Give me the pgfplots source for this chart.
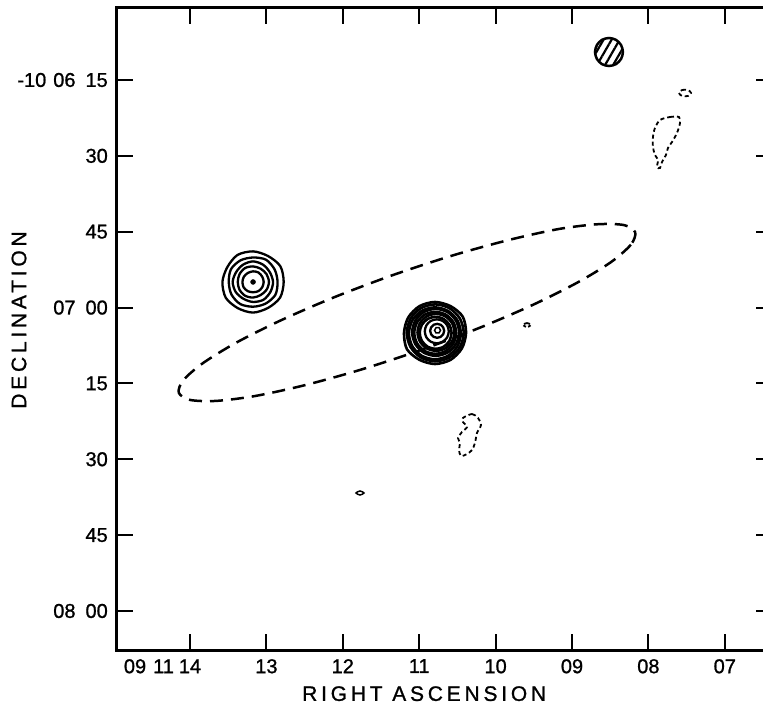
\documentclass[border=0pt]{standalone}
\usepackage{fontspec}
\setmainfont[FakeBold=1]{Liberation Sans}
\newfontfamily\labelfont[LetterSpace=18, FakeBold=1]{Liberation Sans}
\usepackage{pgfplots}
\pgfplotsset{compat=1.18}
\usetikzlibrary{patterns.meta}

\begin{document}
\begin{tikzpicture}
\begin{axis}[
    scale only axis, width=655pt, height=642pt,
    x dir=reverse,
    xmin=6.382, xmax=14.956,
    ymin=-127.72, ymax=-0.76,
    xtick={7,8,9,10,11,12,13,14},
    xticklabels={07,08,09,10,11,12,13,{\llap{09\hspace{7pt}11\hspace{5pt}}14}},
    ytick={-120,-105,-90,-75,-60,-45,-30,-15},
    yticklabels={{08\hspace{10pt}00},45,30,15,{07\hspace{10pt}00},45,30,{-10\hspace{7pt}06\hspace{10pt}15}},
    tick align=inside,
    major tick length=16pt,
    every tick/.append style={black, line width=2pt},
    axis line style={line width=3pt},
    ticklabel style={font=\fontsize{20}{22}\selectfont},
    xticklabel style={anchor=north, inner sep=0pt, yshift=-9pt},
    yticklabel style={anchor=east, inner sep=0pt, xshift=-9pt},
    xlabel={\labelfont RIGHT ASCENSION},
    ylabel={\labelfont DECLINATION},
    label style={font=\fontsize{21}{23}\selectfont},
    xlabel style={at={(axis description cs:0.469,-0.068)}, anchor=center},
    ylabel style={at={(axis description cs:-0.1496,0.514)}, anchor=center},
    pos/.style={black, line width=2.3pt, smooth cycle},
    neg/.style={black, line width=1.8pt, dash pattern=on 4pt off 3pt, smooth cycle},
]

% synthesised beam (hatched)
\addplot[black, line width=2.5pt, smooth cycle,
    pattern={Lines[angle=60, distance=7pt, line width=2.2pt]}] coordinates {
    (8.699,-9.46) (8.674,-8.075) (8.608,-7.06) (8.516,-6.69) (8.424,-7.06) (8.358,-8.075)
    (8.333,-9.46) (8.358,-10.845) (8.424,-11.86) (8.516,-12.23) (8.608,-11.86) (8.674,-10.845)
};

% optical outline of the galaxy
\addplot[black, line width=2.5pt, dash pattern=on 13pt off 8pt, smooth cycle] coordinates {
    (8.173,-45.10) (8.230,-47.57) (8.486,-50.97) (8.925,-55.02) (9.516,-59.49) (10.219,-64.06)
    (10.986,-68.43) (11.766,-72.29) (12.503,-75.37) (13.148,-77.49) (13.658,-78.46) (14.000,-78.26)
    (14.147,-76.85) (14.089,-74.38) (13.832,-71.00) (13.394,-66.93) (12.804,-62.48) (12.101,-57.89)
    (11.334,-53.52) (10.554,-49.66) (9.817,-46.60) (9.171,-44.46) (8.660,-43.52) (8.319,-43.69)
};

% eastern source
\addplot[pos] coordinates {
    (12.774,-54.94) (12.818,-51.82) (12.979,-49.81) (13.175,-48.89) (13.379,-49.60) (13.512,-52.01)
    (13.576,-54.94) (13.532,-58.06) (13.373,-60.13) (13.175,-60.99) (12.979,-60.07) (12.821,-58.03)
};
\addplot[pos] coordinates {
    (12.854,-54.94) (12.892,-52.47) (13.006,-50.53) (13.175,-50.10) (13.339,-50.66) (13.464,-52.42)
    (13.493,-54.94) (13.458,-57.41) (13.342,-59.31) (13.175,-59.83) (13.011,-59.22) (12.883,-57.49)
};
\addplot[pos] coordinates {
    (12.913,-54.94) (12.955,-53.02) (13.044,-51.52) (13.175,-50.87) (13.306,-51.52) (13.397,-53.00)
    (13.442,-54.94) (13.402,-56.92) (13.302,-58.26) (13.175,-58.89) (13.040,-58.47) (12.948,-56.92)
};
\addplot[pos] coordinates {
    (12.967,-54.94) (12.998,-53.40) (13.075,-52.32) (13.175,-51.86) (13.280,-52.19) (13.352,-53.40)
    (13.375,-54.94) (13.352,-56.48) (13.279,-57.66) (13.175,-58.02) (13.076,-57.53) (12.998,-56.48)
};
\addplot[pos] coordinates {
    (13.036,-54.94) (13.055,-53.89) (13.104,-53.07) (13.175,-52.84) (13.243,-53.16) (13.295,-53.89)
    (13.314,-54.94) (13.298,-56.01) (13.244,-56.76) (13.175,-56.97) (13.106,-56.76) (13.055,-55.99)
};
\addplot[only marks, mark=*, mark size=2.5pt, black] coordinates {(13.175,-54.94)};

% central source
\addplot[pos, line width=2.6pt] coordinates {
    (10.387,-65.03) (10.430,-61.80) (10.590,-59.72) (10.793,-58.90) (10.996,-59.72) (11.144,-61.97)
    (11.199,-65.03) (11.160,-68.25) (10.996,-70.34) (10.793,-71.16) (10.590,-70.34) (10.442,-68.09)
};
\addplot[pos, line width=2.6pt] coordinates {
    (10.417,-65.00) (10.467,-62.18) (10.604,-60.12) (10.790,-59.37) (10.977,-60.12) (11.113,-62.18)
    (11.163,-65.00) (11.113,-67.82) (10.977,-69.88) (10.790,-70.63) (10.604,-69.88) (10.467,-67.82)
};
\addplot[pos, line width=2.6pt] coordinates {
    (10.455,-65.10) (10.500,-62.53) (10.625,-60.65) (10.795,-59.96) (10.965,-60.65) (11.090,-62.53)
    (11.135,-65.10) (11.090,-67.67) (10.965,-69.55) (10.795,-70.24) (10.625,-69.55) (10.500,-67.67)
};
\addplot[pos, line width=2.6pt] coordinates {
    (10.477,-64.90) (10.519,-62.58) (10.631,-60.88) (10.785,-60.25) (10.939,-60.88) (11.051,-62.58)
    (11.093,-64.90) (11.051,-67.22) (10.939,-68.92) (10.785,-69.55) (10.631,-68.92) (10.519,-67.22)
};
\addplot[pos, line width=2.6pt] coordinates {
    (10.515,-65.00) (10.552,-62.92) (10.653,-61.40) (10.790,-60.85) (10.927,-61.40) (11.028,-62.92)
    (11.065,-65.00) (11.028,-67.08) (10.927,-68.60) (10.790,-69.15) (10.653,-68.60) (10.552,-67.08)
};
\addplot[pos, line width=2.6pt] coordinates {
    (10.538,-64.90) (10.570,-63.07) (10.659,-61.73) (10.780,-61.24) (10.901,-61.73) (10.990,-63.07)
    (11.022,-64.90) (10.990,-66.73) (10.901,-68.07) (10.780,-68.56) (10.659,-68.07) (10.570,-66.73)
};
\addplot[pos, line width=2.6pt] coordinates {
    (10.576,-65.00) (10.604,-63.42) (10.680,-62.26) (10.785,-61.84) (10.890,-62.26) (10.966,-63.42)
    (10.994,-65.00) (10.966,-66.58) (10.890,-67.74) (10.785,-68.16) (10.680,-67.74) (10.604,-66.58)
};
\addplot[pos] coordinates {
    (10.613,-64.70) (10.634,-63.51) (10.692,-62.65) (10.770,-62.33) (10.849,-62.65) (10.906,-63.51)
    (10.927,-64.70) (10.906,-65.89) (10.849,-66.75) (10.770,-67.07) (10.692,-66.75) (10.634,-65.89)
};
\addplot[pos] coordinates {
    (10.673,-64.60) (10.686,-63.91) (10.719,-63.40) (10.765,-63.22) (10.811,-63.40) (10.844,-63.91)
    (10.857,-64.60) (10.844,-65.29) (10.811,-65.80) (10.765,-65.98) (10.719,-65.80) (10.686,-65.29)
};
\addplot[pos, line width=1.5pt] coordinates {
    (10.721,-64.50) (10.740,-63.99) (10.780,-63.99) (10.799,-64.50) (10.780,-65.01) (10.740,-65.01)
};

% negative contours
\addplot[neg] coordinates {
    (7.600,-17.57) (7.560,-16.98) (7.482,-16.98) (7.442,-17.57) (7.482,-18.16) (7.560,-18.16)
};
\addplot[neg] coordinates {
    (7.848,-22.91) (7.717,-22.32) (7.600,-22.32) (7.586,-23.50) (7.626,-25.48) (7.691,-27.26)
    (7.744,-28.45) (7.770,-29.83) (7.822,-31.22) (7.848,-32.40) (7.888,-32.20) (7.874,-30.82)
    (7.914,-29.83) (7.940,-28.25) (7.940,-26.27) (7.914,-24.49)
};
\addplot[neg] coordinates {
    (10.427,-81.84) (10.309,-81.05) (10.230,-81.84) (10.191,-83.22) (10.244,-84.80) (10.270,-86.78)
    (10.309,-88.17) (10.374,-88.96) (10.453,-89.35) (10.479,-88.17) (10.466,-86.78) (10.492,-85.79)
    (10.440,-84.61) (10.374,-83.62) (10.427,-82.63)
};
\addplot[neg, dash pattern=on 3pt off 2pt] coordinates {
    (9.641,-63.45) (9.589,-63.05) (9.537,-63.45) (9.589,-63.84)
};
\addplot[black, line width=1.5pt, smooth cycle] coordinates {
    (11.827,-96.67) (11.775,-96.27) (11.723,-96.67) (11.775,-97.06)
};

\coordinate (bl) at (axis description cs:0,0);
\coordinate (tr) at (axis description cs:1,1);
\end{axis}
\pgfresetboundingbox
\path[use as bounding box] ([shift={(-117pt,-57pt)}]bl) rectangle ([shift={(-9pt,8pt)}]tr);
\end{tikzpicture}
\end{document}
